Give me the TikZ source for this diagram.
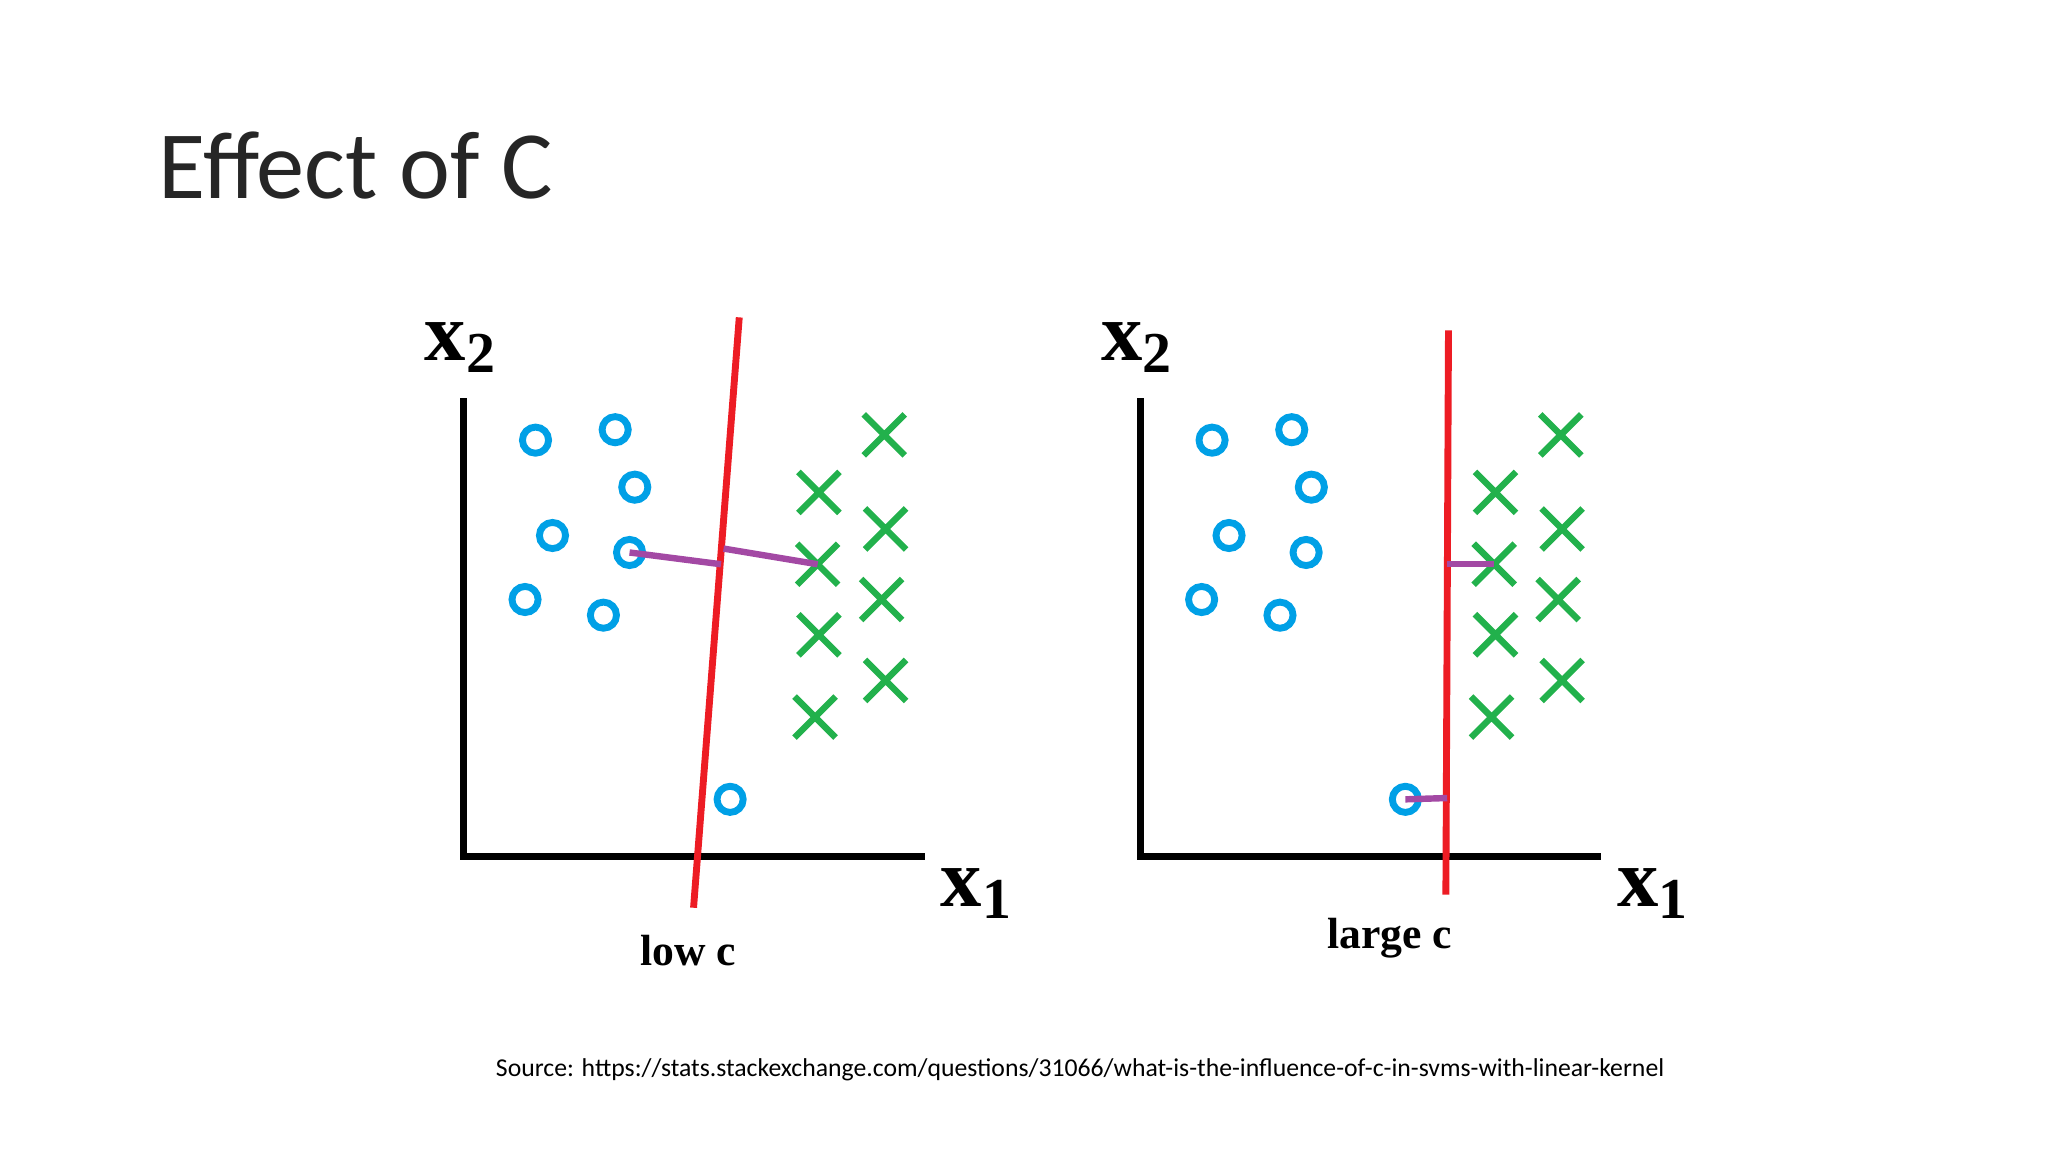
\documentclass[tikz,border=0pt]{standalone}
\usepackage{fontspec}
\setmainfont{Liberation Serif}
\newfontfamily\titlefont{Carlito}
\begin{document}
\begin{tikzpicture}[x=0.01cm,y=-0.01cm,
  axis/.style={line width=1.45pt},
  circ/.style={circle,draw={rgb,255:red,0;green,160;blue,230},line width=1.5pt,minimum size=0.2cm,inner sep=0pt},
  crs/.style={draw=none,minimum size=0.3cm,inner sep=0pt},
  crossline/.style={line width=1.4pt,draw={rgb,255:red,34;green,177;blue,76}},
  sepline/.style={line width=1.5pt,draw={rgb,255:red,237;green,28;blue,36}},
  marg/.style={line width=1.4pt,draw={rgb,255:red,163;green,73;blue,164}},
  lab/.style={font=\bfseries\fontsize{18}{18}\selectfont,inner sep=0pt},
  capt/.style={font=\bfseries\fontsize{9.5}{9.5}\selectfont,inner sep=0pt}]
\useasboundingbox (0,0) rectangle (1568,882);
\node[anchor=base west,inner sep=0pt,font=\titlefont\fontsize{21}{21}\selectfont,text=black!85] (title) at (121,152) {Effect of C};
\node[inner sep=0pt,font=\titlefont\fontsize{5.6}{5.6}\selectfont] (src) at (827,819) {Source: https://stats.stackexchange.com/questions/31066/what-is-the-influence-of-c-in-svms-with-linear-kernel};
\foreach \p/\dx/\cl/\cx/\cy in {L/0/low c/527/728, R/518/large c/546/718}{
  \begin{scope}[xshift=\dx*0.01cm]
  \coordinate (\p top) at (355,305); \coordinate (\p o) at (355,656); \coordinate (\p right) at (708,656);
  \draw[axis] (\p top) -- (\p o) -- (\p right);
  \node[lab] (\p x2) at (353,266) {x$_{\mathbf 2}$};
  \node[lab] (\p x1) at (748,684) {x$_{\mathbf 1}$};
  \node[capt] (\p cap) at (\cx,\cy) {\cl};
  \foreach \i/\x/\y in {1/410/337,2/471/329,3/486/373,4/423/410,5/482/423,6/402/459,7/462/471}
    \node[circ] (\p c\i) at (\x,\y) {};
  \foreach \i/\x/\y in {1/677/333,2/627/377,3/678/405,4/626/432,5/675/459,6/627/486,7/678/521,8/624/549}{
    \node[crs] (\p k\i) at (\x,\y) {};
    \draw[crossline] (\p k\i.north west) -- (\p k\i.south east) (\p k\i.north east) -- (\p k\i.south west);}
  \end{scope}}
\node[circ] (Lc8) at (559,612) {};
\node[circ] (Rc8) at (1076,612) {};
\coordinate (Ls1) at (566,243); \coordinate (Ls2) at (531,695);
\draw[sepline] (Ls1) -- (Ls2);
\coordinate (Lm1) at (552,432); \coordinate (Lm2) at (554,420);
\draw[marg] (Lc5.center) -- (Lm1);
\draw[marg] (Lm2) -- (Lk4.center);
\coordinate (Rs1) at (1109,253); \coordinate (Rs2) at (1107,685);
\draw[sepline] (Rs1) -- (Rs2);
\coordinate (Rm1) at (1108,432); \coordinate (Rm2) at (1108,611);
\draw[marg] (Rm1) -- (Rk4.center);
\draw[marg] (Rc8.center) -- (Rm2);
\end{tikzpicture}
\end{document}
